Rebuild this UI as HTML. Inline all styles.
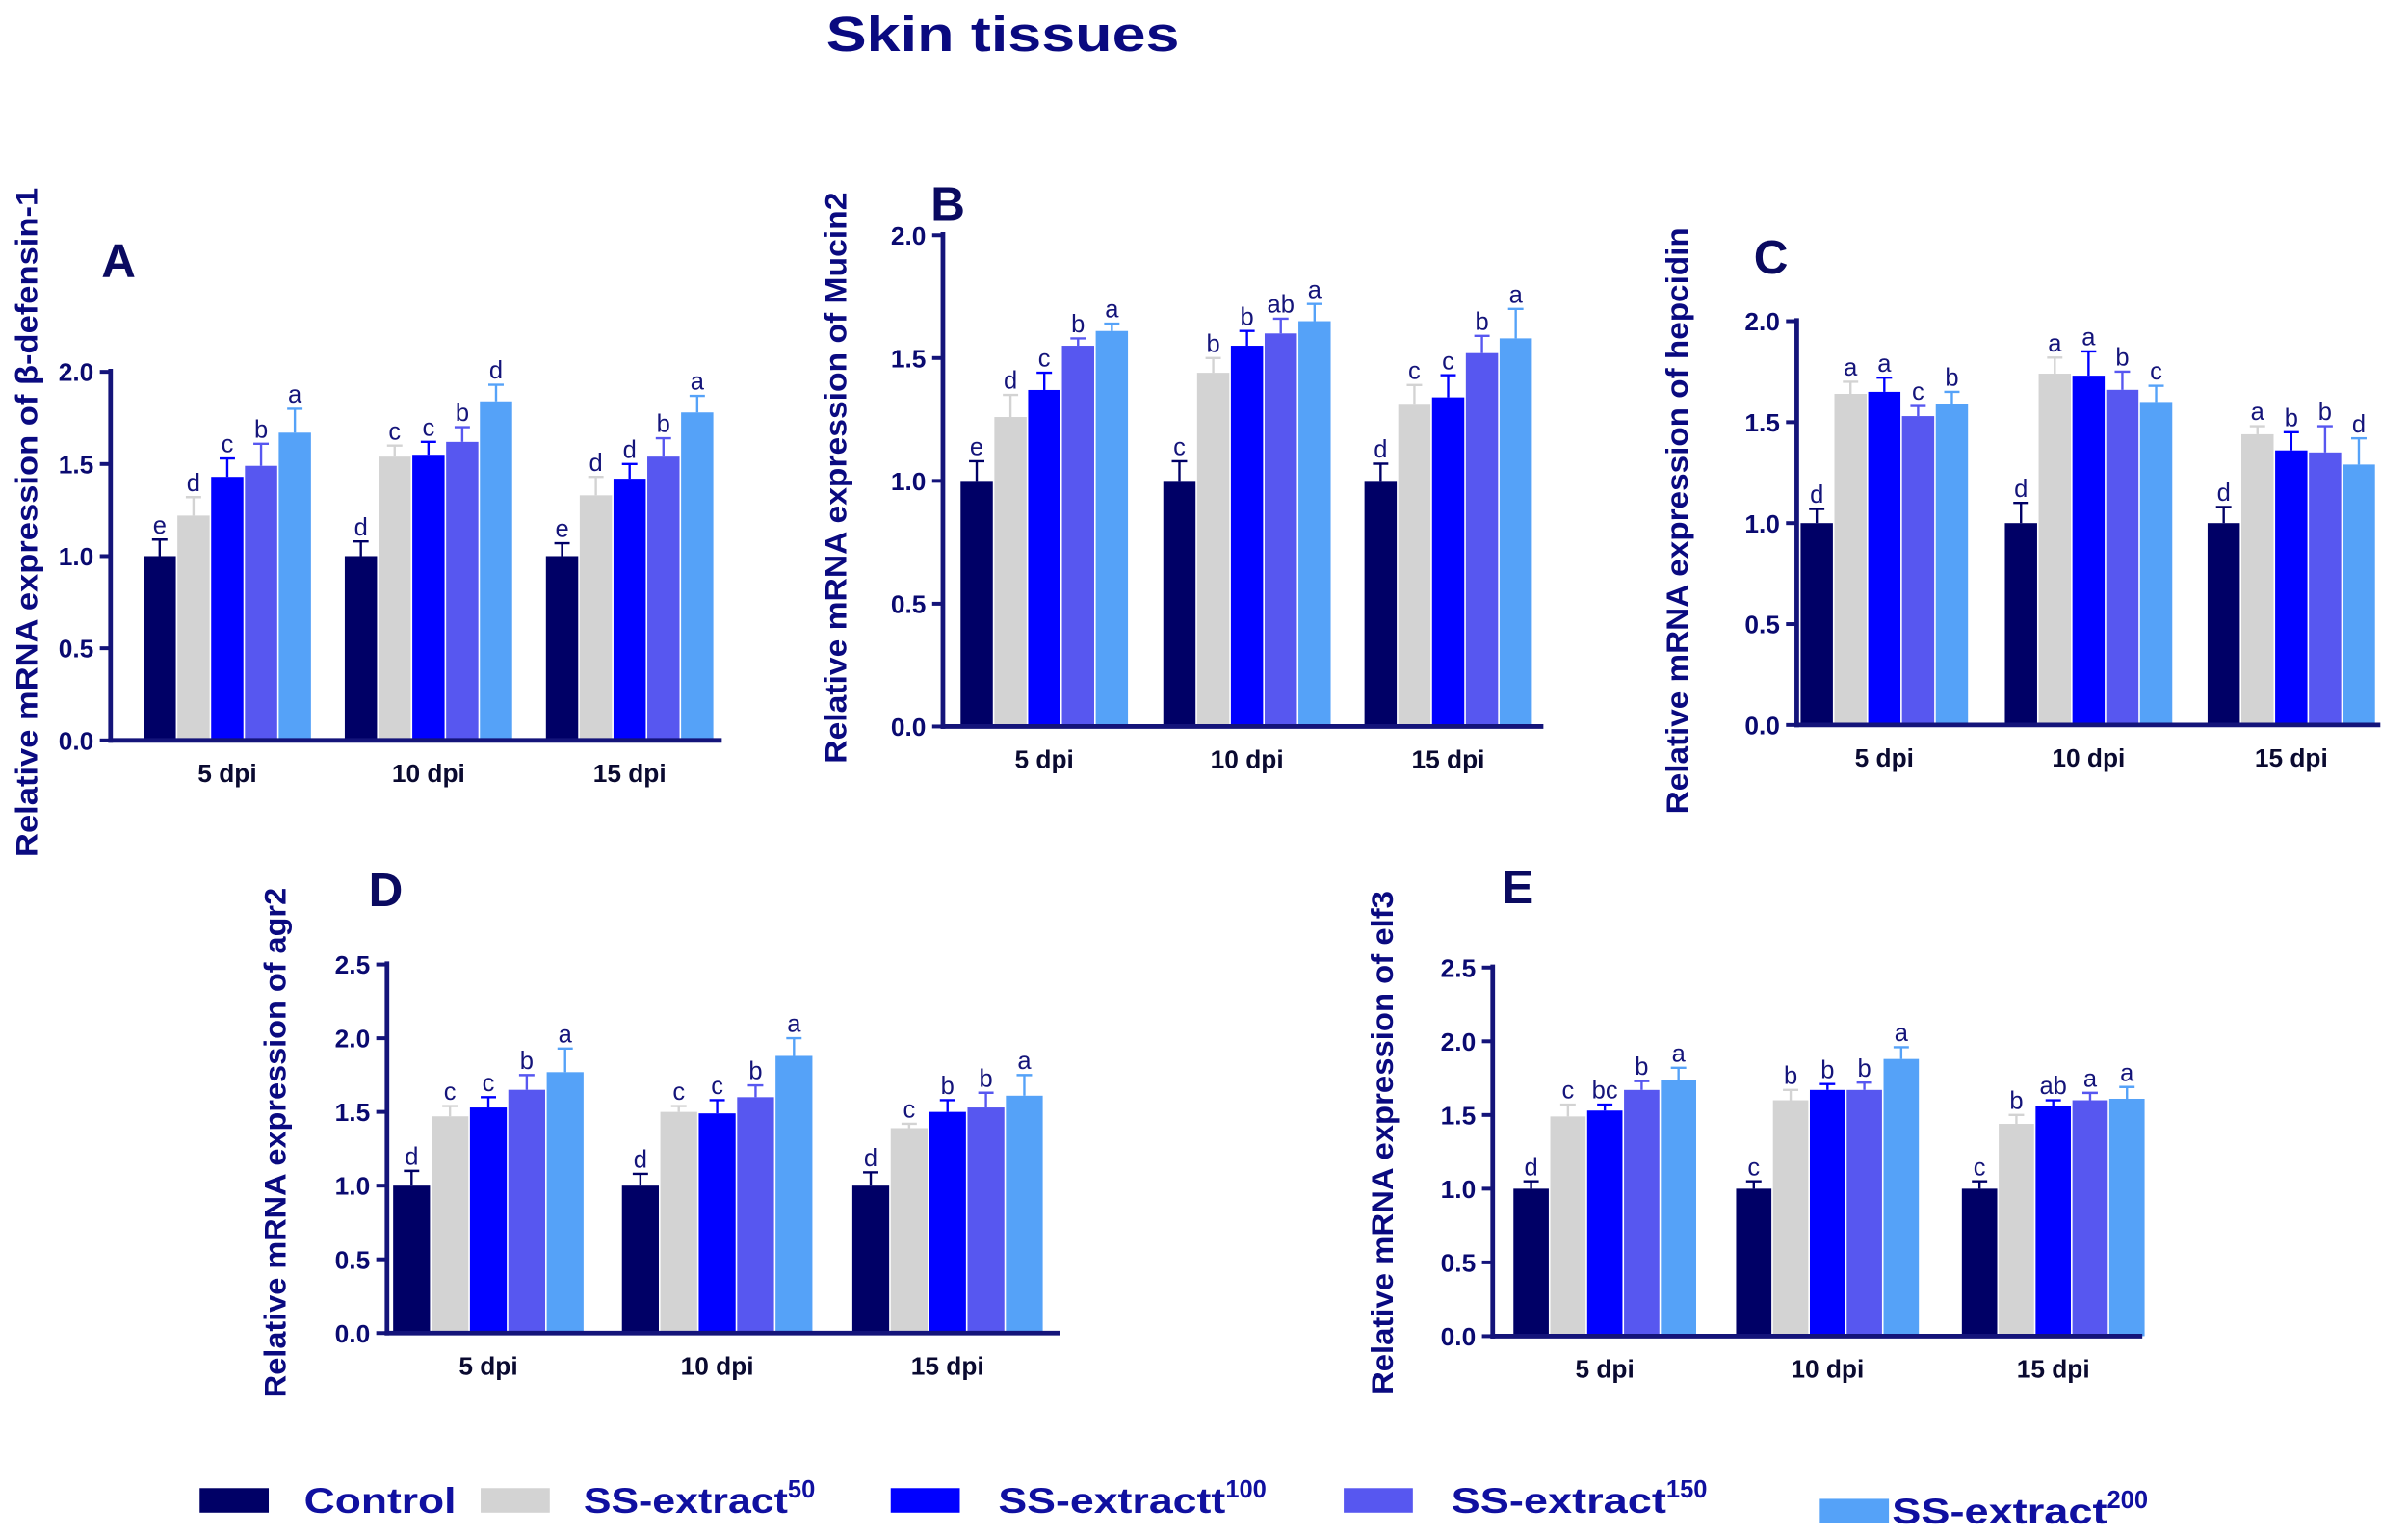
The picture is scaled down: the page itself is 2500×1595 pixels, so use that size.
<!DOCTYPE html>
<html><head><meta charset="utf-8">
<style>
html,body{margin:0;padding:0;background:#fff;}
svg{display:block;}
text{font-family:"Liberation Sans",Arial,sans-serif;}
</style></head>
<body>
<svg id="s" width="2500" height="1595" viewBox="0 0 1568 1000" xmlns="http://www.w3.org/2000/svg">
<rect width="1568" height="1000" fill="#fff"/>
<text x="538" y="33" font-size="32" font-weight="bold" fill="#0a0a80" textLength="230" lengthAdjust="spacingAndGlyphs">Skin tissues</text>
</svg>
<script>
const S=document.getElementById('s'),NS='http://www.w3.org/2000/svg';
const TC='#14147a';
const COLS=['#000066','#d3d3d3','#0000ff','#5757f0','#55a2f8'];
function el(t,a,txt){const e=document.createElementNS(NS,t);for(const k in a)e.setAttribute(k,a[k]);if(txt!==undefined)e.textContent=txt;S.appendChild(e);return e;}
function panel(p){
 const {ax,y0,ytop,ymax,step,right,centers,bw,data,err,labs,letter,lx,ly,ylab,ylx,yb,yt}=p;
 const k=(y0-ytop)/ymax;
 data.forEach((g,gi)=>{
  const c=centers[gi];
  g.forEach((v,i)=>{
   const x=c-2.5*bw+i*bw;
   const ytp=y0-v*k;
   el('rect',{x:x+0.5,y:ytp,width:bw-1,height:v*k,fill:COLS[i]});
   const e=err[gi][i];const ye=ytp-e*k;
   el('line',{x1:x+bw/2,x2:x+bw/2,y1:ytp,y2:ye,stroke:COLS[i],'stroke-width':1.5});
   el('line',{x1:x+bw/2-5,x2:x+bw/2+5,y1:ye,y2:ye,stroke:COLS[i],'stroke-width':1.5});
   el('text',{x:x+bw/2,y:ye-4,'font-size':16,fill:TC,'text-anchor':'middle'},labs[gi][i]);
  });
  el('text',{x:c,y:y0+27,'font-size':16.5,'font-weight':'bold',fill:'#0a0a30','text-anchor':'middle'},['5 dpi','10 dpi','15 dpi'][gi]);
 });
 el('line',{x1:ax,x2:ax,y1:ytop-2,y2:y0+1.5,stroke:TC,'stroke-width':3});
 el('line',{x1:ax-1.5,x2:right,y1:y0,y2:y0,stroke:TC,'stroke-width':3});
 for(let v=0;v<=ymax+1e-9;v+=step){
  const y=y0-v*k;
  el('line',{x1:ax-7,x2:ax,y1:y,y2:y,stroke:TC,'stroke-width':2.5});
  el('text',{x:ax-11,y:y+6,'font-size':16.5,'font-weight':'bold',fill:'#0a0a70','text-anchor':'end'},v.toFixed(1));
 }
 el('text',{x:lx,y:ly,'font-size':31,'font-weight':'bold',fill:'#0a0a60'},letter);
 el('text',{x:0,y:0,'font-size':20,'font-weight':'bold',fill:'#0a0a80',textLength:(yb-yt),lengthAdjust:'spacingAndGlyphs',transform:`translate(${ylx},${yb}) rotate(-90)`},ylab);
}
panel({ax:72,y0:482,ytop:242,ymax:2,step:0.5,right:470,centers:[148,279,410],bw:22,letter:'A',lx:66,ly:180,
 ylab:'Relative mRNA expression of β-defensin-1',ylx:24,yb:558,yt:122,
 data:[[1,1.22,1.43,1.49,1.67],[1,1.54,1.55,1.62,1.84],[1,1.33,1.42,1.54,1.78]],
 err:[[.09,.1,.1,.12,.13],[.08,.06,.07,.08,.09],[.07,.1,.08,.1,.09]],
 labs:[['e','d','c','b','a'],['d','c','c','b','d'],['e','d','d','b','a']]});
panel({ax:614,y0:473,ytop:153,ymax:2,step:0.5,right:1005,centers:[680,812,943],bw:22,letter:'B',lx:606,ly:143,
 ylab:'Relative mRNA expression of Mucin2',ylx:551,yb:497,yt:125,
 data:[[1,1.26,1.37,1.55,1.61],[1,1.44,1.55,1.6,1.65],[1,1.31,1.34,1.52,1.58]],
 err:[[.08,.09,.07,.03,.03],[.08,.06,.06,.06,.07],[.07,.08,.09,.07,.12]],
 labs:[['e','d','c','b','a'],['c','b','b','ab','a'],['d','c','c','b','a']]});
panel({ax:1170,y0:472,ytop:209,ymax:2,step:0.5,right:1550,centers:[1227,1360,1492],bw:22,letter:'C',lx:1142,ly:178,
 ylab:'Relative mRNA expression of hepcidin',ylx:1099,yb:530,yt:148,
 data:[[1,1.64,1.65,1.53,1.59],[1,1.74,1.73,1.66,1.6],[1,1.44,1.36,1.35,1.29]],
 err:[[.07,.06,.07,.05,.06],[.1,.08,.12,.09,.08],[.08,.04,.09,.13,.13]],
 labs:[['d','a','a','c','b'],['d','a','a','b','c'],['d','a','b','b','d']]});
panel({ax:252,y0:868,ytop:628,ymax:2.5,step:0.5,right:690,centers:[318,467,617],bw:25,letter:'D',lx:240,ly:590,
 ylab:'Relative mRNA expression of  agr2',ylx:186,yb:910,yt:578,
 data:[[1,1.47,1.53,1.65,1.77],[1,1.5,1.49,1.6,1.88],[1,1.39,1.5,1.53,1.61]],
 err:[[.1,.07,.07,.1,.16],[.08,.04,.09,.08,.12],[.09,.03,.08,.1,.14]],
 labs:[['d','c','c','b','a'],['d','c','c','b','a'],['d','c','b','b','a']]});
panel({ax:972,y0:870,ytop:630,ymax:2.5,step:0.5,right:1395,centers:[1045,1190,1337],bw:24,letter:'E',lx:978,ly:588,
 ylab:'Relative mRNA expression of  elf3',ylx:907,yb:908,yt:580,
 data:[[1,1.49,1.53,1.67,1.74],[1,1.6,1.67,1.67,1.88],[1,1.44,1.56,1.6,1.61]],
 err:[[.05,.08,.04,.06,.08],[.05,.07,.04,.05,.08],[.05,.06,.04,.05,.08]],
 labs:[['d','c','bc','b','a'],['c','b','b','b','a'],['c','b','ab','a','a']]});
const L=[[130,198,'Control','',99],[313,380,'SS-extract50'.slice(0,10),'50',133],[580,650,'SS-extractt','100',148],[875,945,'SS-extract','150',140],[1185,1232,'SS-extract','200',140]];
L.forEach((l,i)=>{
 const yy=i==4?984:977;
 el('rect',{x:l[0],y:yy-8,width:45,height:16,fill:COLS[i]});
 const t=el('text',{x:l[1],y:yy+8,'font-size':23,'font-weight':'bold',fill:'#1010a0'});
 const a=document.createElementNS(NS,'tspan');a.textContent=l[2];a.setAttribute('textLength',l[4]);a.setAttribute('lengthAdjust','spacingAndGlyphs');t.appendChild(a);
 if(l[3]){const b=document.createElementNS(NS,'tspan');b.setAttribute('dy','-10');b.setAttribute('font-size','16');b.textContent=l[3];t.appendChild(b);}
});
</script>
</body></html>
